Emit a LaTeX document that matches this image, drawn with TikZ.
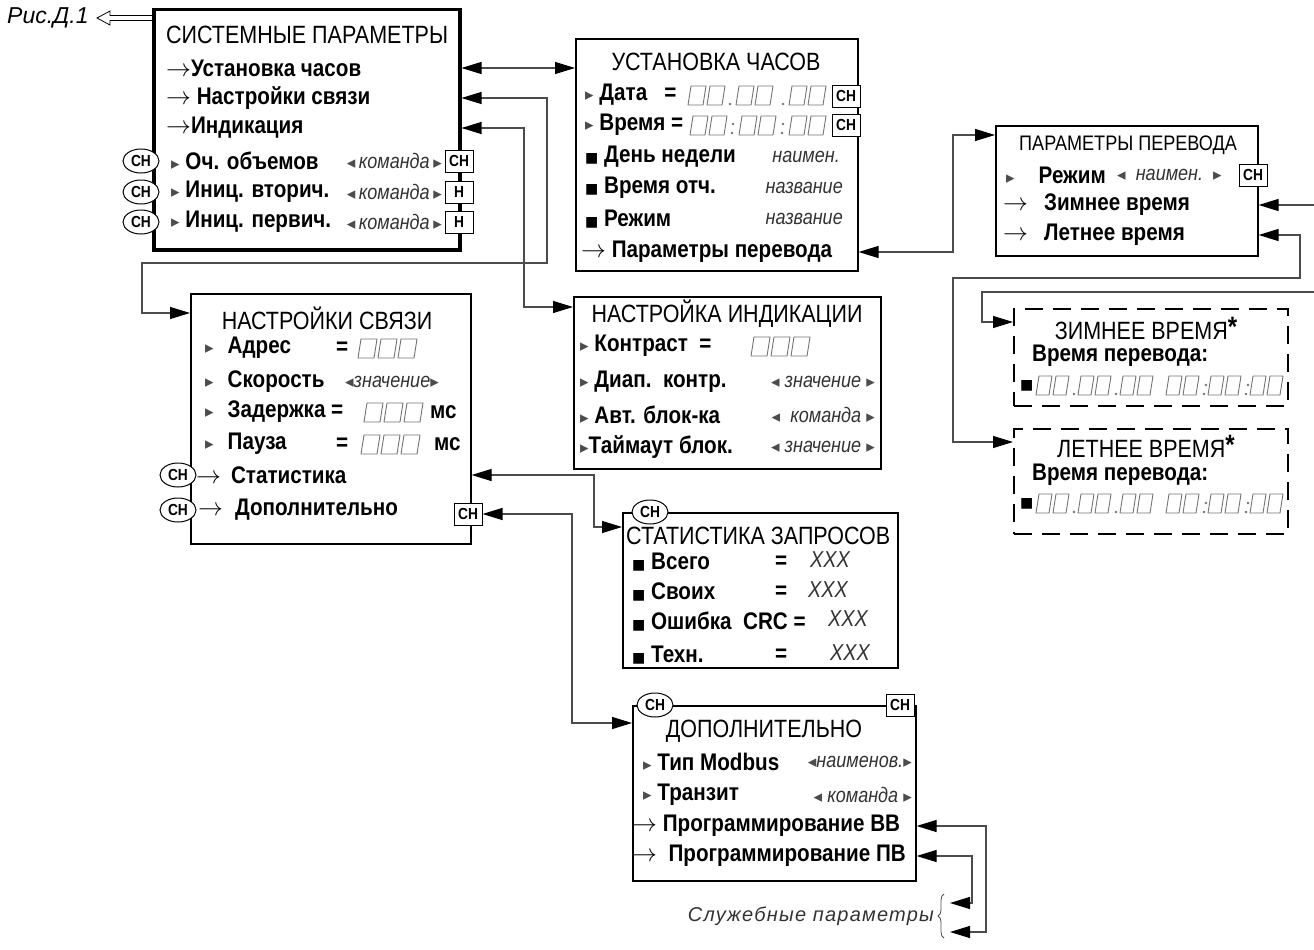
\documentclass[tikz,border=0pt]{standalone}
\usepackage{fontspec}
\setmainfont{Liberation Sans}[FakeStretch=0.86]
\newfontfamily\widefont{Liberation Sans}
\newfontfamily\spfont{Liberation Sans}[LetterSpace=6]
\newfontfamily\symfont{DejaVu Sans}
\usetikzlibrary{arrows.meta,positioning,shapes.geometric,decorations.pathreplacing}

\newcommand{\rtri}{{\symfont\mdseries\color{black!70}\fontsize{17}{17}\selectfont ▸}}
\newcommand{\ltri}{{\symfont\mdseries\color{black!70}\fontsize{17}{17}\selectfont ◂}}
\newcommand{\bsq}{{\symfont\fontsize{14}{14}\selectfont ■}}
\newcommand{\rarr}{{\mdseries$\rightarrow$}}
\newcommand{\bstar}{\raisebox{3pt}{\fontsize{28}{28}\selectfont\bfseries *}}
% группа ячеек индикатора: x, база, число ячеек, шаг
\newcommand{\cellgrp}[4]{\pgfmathsetmacro\cw{#4-4}%
  \foreach \k in {1,...,#3}{\pic at ({#1+(\k-1)*#4},#2) {cell=\cw};}}

\tikzset{
  menu/.style ={draw,line width=1.6pt,anchor=north west,inner sep=0pt},
  dmenu/.style={menu,dash pattern=on 18pt off 10pt},
  ttl/.style  ={inner sep=0pt,font=\fontsize{25}{27}\selectfont},
  itm/.style  ={anchor=west,inner sep=0pt,font=\bfseries\fontsize{24}{26}\selectfont},
  val/.style  ={anchor=west,inner sep=0pt,text=black!80,font=\itshape\fontsize{21}{23}\selectfont},
  chov/.style ={ellipse,draw,line width=1pt,fill=white,inner sep=0pt,minimum width=36pt,
                minimum height=24pt,font=\bfseries\fontsize{16}{16}\selectfont},
  chbx/.style ={draw,line width=1pt,fill=white,inner sep=0pt,minimum width=28pt,
                minimum height=22pt,font=\bfseries\fontsize{16}{16}\selectfont},
  biar/.style ={{Triangle[length=20pt,width=12pt,color=black]}-{Triangle[length=20pt,width=12pt,color=black]},
                line width=1.2pt,draw=black!70},
  holl/.style ={line width=0.8pt,line join=miter},
  brc/.style  ={decorate,decoration={brace,amplitude=6pt},line width=0.8pt,draw=black!70},
  cellln/.style={line width=0.9pt,draw=black!55,line join=round},
  pics/cell/.style={code={\draw[cellln] (0,0) -- (#1,0) -- (#1+3,-19) -- (3,-19) -- cycle;}},
}

\begin{document}
\begin{tikzpicture}[x=1pt,y=-1pt]
\useasboundingbox (0,0) rectangle (1314,950);

% системные параметры
\node[menu,line width=3.5pt,minimum width=306pt,minimum height=240pt] (sys) at (152,8) {};
\node[ttl,anchor=west] (s_ttl) at (166,35) {СИСТЕМНЫЕ ПАРАМЕТРЫ};
\node[itm] (s_clk) at (166,68) {\rarr Установка часов};
\node[itm] (s_net) at (166,98) {\rarr\ Настройки связи};
\node[itm] (s_ind) at (166,128) {\rarr Индикация};
\foreach \i/\y/\t/\v in {1/161/{Оч. объемов}/{СН},2/192/{Иниц. вторич.}/{Н},3/222/{Иниц. первич.}/{Н}}{
  \node[chov] (s_ov\i) at (141,\y) {СН};
  \node[itm] (s_cmd\i) at (171,\y) {\rtri\ \t};
  \node[val,anchor=east] (s_val\i) at (442,\y) {\ltri\,команда\,\rtri};
  \node[chbx] (s_bx\i) at (459,\y) {\v};
}
\node[val,text=black,font=\widefont\itshape\fontsize{23}{25}\selectfont] (ris) at (7,18) {Рис.Д.1};
\draw[holl] (sys.west |- ris) ++(0,-2.5) -- ++(-42,0) -- ++(0,-4.5) -- ++(-13,7)
  -- ++(13,7) -- ++(0,-4.5) -- ++(42,0);

% установка часов
\node[menu,minimum width=282pt,minimum height=232pt] (clk) at (575,38) {};
\node[ttl] (c_ttl) at (716,62) {УСТАНОВКА ЧАСОВ};
\node[itm] (c_dat) at (585,95) {\rtri\ Дата\ \ \ =};
\cellgrp{688}{105}{2}{19} \cellgrp{736}{105}{2}{19} \cellgrp{789}{105}{2}{19}
\fill[black!55] (730,104) circle (1.4) (783,104) circle (1.4);
\node[chbx] (c_bx1) at (846,96) {СН};
\node[itm] (c_tim) at (585,125) {\rtri\ Время =};
\cellgrp{690}{135}{2}{19} \cellgrp{739}{135}{2}{19} \cellgrp{789}{135}{2}{19}
\fill[black!55] (732,133) circle (1.4) (733,124) circle (1.4) (782,133) circle (1.4) (783,124) circle (1.4);
\node[chbx] (c_bx2) at (846,125) {СН};
\node[itm] (c_day) at (585,157) {\bsq\ День недели};
\node[val,anchor=east] (c_dayv) at (840,157) {наимен.};
\node[itm] (c_rep) at (585,188) {\bsq\ Время отч.};
\node[val,anchor=east] (c_repv) at (843,188) {название};
\node[itm] (c_mod) at (585,219) {\bsq\ Режим};
\node[val,anchor=east] (c_modv) at (843,219) {название};
\node[itm] (c_pp) at (581,252) {\rarr\ Параметры перевода};

% параметры перевода
\node[menu,minimum width=262pt,minimum height=130pt] (pp) at (995,125) {};
\node[ttl,font=\fontsize{21}{23}\selectfont] (p_ttl) at (1128,145) {ПАРАМЕТРЫ ПЕРЕВОДА};
\node[itm] (p_mod) at (1006,175) {\rtri\hspace{24pt}Режим};
\node[val] (p_modv) at (1117,175) {\ltri\ \ наимен.\ \ \rtri};
\node[chbx] (p_bx) at (1253,175) {СН};
\node[itm] (p_win) at (1003,205) {\rarr\hspace{16pt}Зимнее время};
\node[itm] (p_sum) at (1003,235) {\rarr\hspace{16pt}Летнее время};

% зимнее / летнее время
\node[dmenu,minimum width=274pt,minimum height=97pt] (win) at (1013,308) {};
\node[ttl,anchor=base] (w_ttl) at (1146,339) {ЗИМНЕЕ ВРЕМЯ\bstar};
\node[itm] (w_lbl) at (1032,356) {Время перевода:};
\node[itm] (w_sq) at (1020,386) {\bsq};
\node[dmenu,minimum width=274pt,minimum height=105pt] (sum) at (1013,428) {};
\node[ttl,anchor=base] (u_ttl) at (1146,457) {ЛЕТНЕЕ ВРЕМЯ\bstar};
\node[itm] (u_lbl) at (1032,475) {Время перевода:};
\node[itm] (u_sq) at (1020,504) {\bsq};
\foreach \b in {395,513}{
  \cellgrp{1036}{\b}{2}{17} \cellgrp{1078}{\b}{2}{17} \cellgrp{1120}{\b}{2}{17}
  \cellgrp{1166}{\b}{2}{17} \cellgrp{1208}{\b}{2}{17} \cellgrp{1250}{\b}{2}{17}
  \fill[black!55] (1074,\b-1) circle (1.4) (1116,\b-1) circle (1.4)
    (1204,\b-1) circle (1.4) (1206,\b-10) circle (1.4) (1246,\b-1) circle (1.4) (1248,\b-10) circle (1.4);
}

% настройки связи
\node[menu,minimum width=280pt,minimum height=250pt] (net) at (190,293) {};
\node[ttl] (n_ttl) at (327,318) {НАСТРОЙКИ СВЯЗИ};
\node[itm] (n_adr) at (205,348) {\rtri\hspace{14pt}Адрес};
\node[itm] (n_adre) at (336,348) {=};
\cellgrp{358}{358}{3}{20}
\node[itm] (n_spd) at (205,382) {\rtri\hspace{14pt}Скорость};
\node[val] (n_spdv) at (345,382) {\ltri значение\rtri};
\node[itm] (n_del) at (205,412) {\rtri\hspace{14pt}Задержка =};
\cellgrp{364}{422}{3}{20}
\node[itm] (n_delu) at (430,412) {мс};
\node[itm] (n_pau) at (205,444) {\rtri\hspace{14pt}Пауза};
\node[itm] (n_paue) at (336,444) {=};
\cellgrp{361}{454}{3}{20}
\node[itm] (n_pauu) at (434,444) {мс};
\node[chov] (n_ov1) at (178,475) {СН};
\node[itm] (n_st) at (196,475) {\rarr\hspace{10pt}Статистика};
\node[chov] (n_ov2) at (178,510) {СН};
\node[itm] (n_dop) at (198,510) {\rarr\hspace{12pt}Дополнительно};
\node[chbx] (n_bx) at (468,514) {СН};

% настройка индикации
\node[menu,minimum width=307pt,minimum height=172pt] (ind) at (573,296) {};
\node[ttl] (d_ttl) at (727,314) {НАСТРОЙКА ИНДИКАЦИИ};
\node[itm] (d_con) at (580,346) {\rtri\ Контраст\ \ =};
\cellgrp{751}{356}{3}{20}
\node[itm] (d_rng) at (580,382) {\rtri\ Диап.\ \ контр.};
\node[val,anchor=east] (d_rngv) at (875,382) {\ltri\ значение\ \rtri};
\node[itm] (d_aut) at (580,415) {\rtri\ Авт. блок-ка};
\node[val,anchor=east] (d_autv) at (875,415) {\ltri\ \ команда\ \rtri};
\node[itm] (d_tmo) at (580,447) {\rtri Таймаут блок.};
\node[val,anchor=east] (d_tmov) at (875,447) {\ltri\ значение\ \rtri};

% статистика запросов
\node[menu,minimum width=275pt,minimum height=155pt] (st) at (622,512) {};
\node[chov] (t_ov) at (650,512) {СН};
\node[ttl,anchor=west] (t_ttl) at (626,536) {СТАТИСТИКА ЗАПРОСОВ};
\foreach \i/\y/\t/\e/\v in {1/562/Всего/775/810,2/592/Своих/775/808,4/655/Техн./775/830}{
  \node[itm] (t_r\i) at (632,\y) {\bsq\ \t};
  \node[itm] (t_e\i) at (\e,\y) {=};
  \node[val,font=\itshape\fontsize{23}{25}\selectfont] (t_v\i) at (\v,\y-2) {XXX};
}
\node[itm] (t_r3) at (632,622) {\bsq\ Ошибка\ \ CRC =};
\node[val,font=\itshape\fontsize{23}{25}\selectfont] (t_v3) at (828,619) {XXX};

% дополнительно
\node[menu,minimum width=283pt,minimum height=175pt] (dop) at (632,705) {};
\node[chov] (o_ov) at (655,705) {СН};
\node[chbx] (o_bx) at (900,705) {СН};
\node[ttl] (o_ttl) at (764,731) {ДОПОЛНИТЕЛЬНО};
\node[itm] (o_mb) at (643,762) {\rtri\ Тип Modbus};
\node[val,anchor=east] (o_mbv) at (912,762) {\ltri наименов.\rtri};
\node[itm] (o_tr) at (643,795) {\rtri\ Транзит};
\node[val,anchor=east] (o_trv) at (912,795) {\ltri\ команда\ \rtri};
\node[itm] (o_vv) at (632,826) {\rarr\ Программирование ВВ};
\node[itm] (o_pv) at (632,856) {\rarr\ \ Программирование ПВ};

% служебные параметры
\node[val,anchor=east,font=\spfont\itshape\fontsize{20}{22}\selectfont] (svc) at (934,916) {Служебные параметры};
\draw[brc] (944,938) -- (944,894);
\coordinate (svc1) at (950,903);
\coordinate (svc2) at (950,932);

% переходы
\draw[biar] (sys.east |- s_clk) -- (clk.west |- s_clk);
\draw[biar] (sys.east |- s_net) -| (547,263) -| (142,313) -- ([yshift=-20pt]net.north west);
\draw[biar] (sys.east |- s_ind) -| (524,307) -- ([yshift=-11pt]ind.north west);
\draw[biar] (clk.east |- c_pp) -| (953,135) -- ([yshift=-10pt]pp.north west);
\draw[biar] (pp.east |- p_win) -- (1320,205) -- (1320,292) -| (982,322) -- ([yshift=-14pt]win.north west);
\draw[biar] (pp.east |- p_sum) -| (1300,278) -| (953,442) -- ([yshift=-14pt]sum.north west);
\draw[biar] (net.east |- n_st) -| (594,527) -- ([yshift=-15pt]st.north west);
\draw[biar] (n_bx.east) -| (572,723) -- ([yshift=-18pt]dop.north west);
\draw[biar] (dop.east |- o_vv) -| (986,932) -- (svc2);
\draw[biar] (dop.east |- o_pv) -| (972,903) -- (svc1);
\end{tikzpicture}
\end{document}
